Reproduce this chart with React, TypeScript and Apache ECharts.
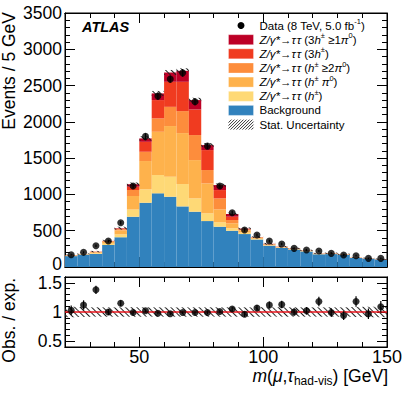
import React, { useEffect, useRef } from 'react';
import * as echarts from 'echarts';

const massBins = ['22.5','27.5','32.5','37.5','42.5','47.5','52.5','57.5','62.5','67.5','72.5','77.5','82.5','87.5','92.5','97.5','102.5','107.5','112.5','117.5','122.5','127.5','132.5','137.5','142.5','147.5'];
const background = [150,170,180,303,410,693,885,1015,968,835,762,633,555,500,454,380,293,262,240,214,175,178,166,124,116,103];
const zH = [5,3,10,18,40,101,185,252,276,308,184,106,60,33,20,8,6,5,4,4,3,3,2,2,2,1];
const zHPi0 = [5,4,12,25,55,184,390,596,698,702,527,413,179,69,30,12,10,6,6,5,4,4,4,3,2,2];
const zH2Pi0 = [3,2,6,8,15,82,128,185,265,303,345,184,152,45,12,5,5,4,3,3,2,2,2,1,1,1];
const z3H = [1,1,3,4,10,46,137,252,345,404,353,275,114,46,10,4,4,3,3,2,1,2,1,1,1,1];
const z3HPi0 = [1,0,1,2,5,33,47,92,128,151,129,69,69,37,4,2,2,1,1,1,1,1,1,1,1,1];
const observed = [170,202,293,358,610,1115,1800,2355,2589,2675,2276,1666,1115,748,509,440,358,317,257,234,220,188,165,156,119,119];
const observedErr = [13,14,17,19,25,33,42,49,51,52,48,41,33,27,23,21,19,18,16,15,15,14,13,12,11,11];
const statErr = [8,8,10,14,20,25,30,34,35,35,32,27,22,18,15,13,12,11,10,10,9,9,9,8,8,8];
const ratio = [1.03,1.12,1.38,1.0,1.15,0.99,1.02,0.98,0.97,0.99,0.99,0.99,1.01,1.05,0.96,1.07,1.12,1.13,1.0,1.02,1.18,0.99,0.94,1.18,0.97,1.09];
const ratioErr = [0.08,0.08,0.07,0.05,0.05,0.03,0.025,0.02,0.02,0.02,0.02,0.025,0.03,0.04,0.045,0.05,0.06,0.065,0.065,0.065,0.08,0.075,0.075,0.09,0.09,0.1];
const ratioBand = [0.09,0.085,0.08,0.08,0.08,0.08,0.08,0.08,0.08,0.08,0.08,0.08,0.08,0.08,0.08,0.08,0.08,0.08,0.08,0.08,0.08,0.08,0.08,0.085,0.09,0.09];
const xMajorTicks = [50, 100, 150];
const ratioMajorTicks = [0.5, 1, 1.5];
const mainZeroLabel = '0';

const COLORS = {
  bkg: '#3182bd',
  h: '#fed976',
  hpi0: '#feb24c',
  h2pi0: '#fd8d3c',
  three: '#f03b20',
  threepi0: '#bd0026',
};

const FF = '"Liberation Sans", Arial, Helvetica, sans-serif';
const LABEL_FS = 17.5;

const decal = {
  symbol: 'rect',
  color: '#222',
  dashArrayX: [1, 0],
  dashArrayY: [1, 3],
  rotation: Math.PI / 4,
};

function buildOption() {
  const total = background.map((b, i) => b + zH[i] + zHPi0[i] + zH2Pi0[i] + z3H[i] + z3HPi0[i]);
  const G0 = { left: 65, top: 13, width: 322, height: 254 };
  const G1 = { left: 65, top: 277, width: 322, height: 70 };

  const valX = (grid: number, pos: string, major: boolean, labels: boolean) => ({
    type: 'value', gridIndex: grid, position: pos, min: 20, max: 150,
    ...(major ? {} : { interval: 10 }),
    axisLine: { show: true, lineStyle: { color: '#000', width: 1 } },
    axisTick: major
      ? { show: true, inside: true, length: 10, customValues: xMajorTicks, lineStyle: { color: '#000' } }
      : { show: true, inside: true, length: 5, lineStyle: { color: '#000' } },
    axisLabel: labels
      ? { show: true, customValues: xMajorTicks, fontSize: 18, color: '#000', fontFamily: FF, margin: 1 }
      : { show: false },
    splitLine: { show: false },
  });

  const catX = (grid: number) => ({
    type: 'category', gridIndex: grid, data: massBins, show: false, boundaryGap: true,
  });

  const ratioY = (pos: string, major: boolean, labels: boolean) => ({
    type: 'value', gridIndex: 1, position: pos, min: 0.4, max: 1.6,
    ...(major ? {} : { interval: 0.1 }),
    axisLine: { show: true, lineStyle: { color: '#000' } },
    axisTick: major
      ? { show: true, inside: true, length: 10, customValues: ratioMajorTicks, lineStyle: { color: '#000' } }
      : { show: true, inside: true, length: 5, lineStyle: { color: '#000' } },
    axisLabel: labels
      ? { show: true, customValues: ratioMajorTicks, fontSize: LABEL_FS, lineHeight: 13, color: '#000', fontFamily: FF, margin: 3,
          formatter: (v: number) => String(v) }
      : { show: false },
    splitLine: { show: false },
  });

  const mainY = (pos: string, labels: boolean) => ({
    type: 'value', gridIndex: 0, position: pos, min: 0, max: 3500, interval: 500,
    axisLine: { show: true, lineStyle: { color: '#000' } },
    axisTick: { show: true, inside: true, length: 10, lineStyle: { color: '#000' } },
    minorTick: { show: true, splitNumber: 5, length: 5, lineStyle: { color: '#000' } },
    axisLabel: labels ? { show: true, showMinLabel: false, fontSize: LABEL_FS, lineHeight: 13, color: '#000', fontFamily: FF, margin: 3,
      formatter: (v: number) => (v === 0 ? '' : String(v)) } : { show: false },
    splitLine: { show: false },
    minorSplitLine: { show: false },
  });

  const stackDefs = [
    { name: 'Background', data: background, color: COLORS.bkg },
    { name: 'h', data: zH, color: COLORS.h },
    { name: 'hpi0', data: zHPi0, color: COLORS.hpi0 },
    { name: 'h2pi0', data: zH2Pi0, color: COLORS.h2pi0 },
    { name: '3h', data: z3H, color: COLORS.three },
    { name: '3hpi0', data: z3HPi0, color: COLORS.threepi0 },
  ];

  const barCommon = { type: 'bar', barCategoryGap: '0%', barGap: '-100%', silent: true };

  const errBar = (xIdx: number, yIdx: number, vals: number[], errs: number[]) => ({
    type: 'custom', xAxisIndex: xIdx, yAxisIndex: yIdx, silent: true, z: 5,
    renderItem: (params: any, api: any) => {
      const x = api.value(0);
      const p1 = api.coord([x, api.value(1)]);
      const p2 = api.coord([x, api.value(2)]);
      return { type: 'line', shape: { x1: p1[0], y1: p1[1], x2: p2[0], y2: p2[1] }, style: { stroke: '#000', lineWidth: 1.2 } };
    },
    encode: { x: 0, y: [1, 2] },
    data: vals.map((v, i) => [i, v - errs[i], v + errs[i]]),
  });

  const series: any[] = [];
  stackDefs.forEach((s) => {
    series.push({ ...barCommon, name: s.name, xAxisIndex: 0, yAxisIndex: 0, stack: 'mc', data: s.data, itemStyle: { color: s.color } });
  });
  series.push({ ...barCommon, name: 'uncBase', xAxisIndex: 0, yAxisIndex: 0, stack: 'unc', data: total.map((t, i) => t - statErr[i]), itemStyle: { color: 'rgba(0,0,0,0)' } });
  series.push({ ...barCommon, name: 'unc', xAxisIndex: 0, yAxisIndex: 0, stack: 'unc', data: statErr.map((e) => 2 * e), itemStyle: { color: 'rgba(0,0,0,0)', decal } });
  series.push(errBar(0, 0, observed, observedErr));
  series.push({ type: 'scatter', xAxisIndex: 0, yAxisIndex: 0, symbol: 'circle', symbolSize: 7, silent: true, z: 6,
    itemStyle: { color: '#000' }, data: observed.map((v, i) => [i, v]) });

  // ratio panel
  series.push({ ...barCommon, name: 'rBase', xAxisIndex: 5, yAxisIndex: 2, stack: 'rb', data: ratioBand.map((e) => 1 - e), itemStyle: { color: 'rgba(0,0,0,0)' } });
  series.push({ ...barCommon, name: 'rBand', xAxisIndex: 5, yAxisIndex: 2, stack: 'rb', data: ratioBand.map((e) => 2 * e), itemStyle: { color: 'rgba(0,0,0,0)', decal } });
  series.push(errBar(5, 2, ratio, ratioErr));
  series.push({ type: 'scatter', xAxisIndex: 5, yAxisIndex: 2, symbol: 'circle', symbolSize: 7, silent: true, z: 6,
    itemStyle: { color: '#000' }, data: ratio.map((v, i) => [i, v]),
    markLine: { silent: true, symbol: ['none', 'none'], label: { show: false }, z: 4,
      lineStyle: { color: '#e8141c', width: 1.6, type: 'solid' }, data: [{ yAxis: 1 }] } });

  // legend graphics
  const rows = [25.5, 39.7, 53.8, 68, 82.1, 96.3, 110.4, 124.6];
  const swX = 228.5, swW = 25, swH = 10;
  const tt = 'τ\u200Aτ';
  const legendTexts = [
    'Data (8 TeV, 5.0 fb{s|-1})',
    `{i|Z/γ*}→{i|${tt}} (3{i|h}{s|±} ≥1{i|π}{s|0})`,
    `{i|Z/γ*}→{i|${tt}} (3{i|h}{s|±})`,
    `{i|Z/γ*}→{i|${tt}} ({i|h}{s|±} ≥2{i|π}{s|0})`,
    `{i|Z/γ*}→{i|${tt}} ({i|h}{s|±} {i|π}{s|0})`,
    `{i|Z/γ*}→{i|${tt}} ({i|h}{s|±})`,
    'Background',
    'Stat. Uncertainty',
  ];
  const swColors = [null, COLORS.threepi0, COLORS.three, COLORS.h2pi0, COLORS.hpi0, COLORS.h, COLORS.bkg, null];
  const graphics: any[] = [];
  legendTexts.forEach((t, i) => {
    graphics.push({
      type: 'text', x: 259.5, y: rows[i], silent: true,
      style: {
        text: t, fill: '#000', fontSize: 11.5, fontFamily: FF, lineHeight: 16, align: 'left', verticalAlign: 'middle',
        rich: {
          i: { fontStyle: 'italic', fontSize: 11.5, fontFamily: FF, lineHeight: 16 },
          s: { fontSize: 7.5, fontFamily: FF, lineHeight: 9, verticalAlign: 'top' },
        },
      },
    });
    const c = swColors[i];
    if (c) {
      graphics.push({ type: 'rect', silent: true, shape: { x: swX, y: rows[i] - swH / 2, width: swW, height: swH }, style: { fill: c, stroke: 'rgba(255,255,255,0.6)', lineWidth: 0.5 } });
    }
  });
  graphics.push({ type: 'circle', silent: true, shape: { cx: swX + swW / 2, cy: rows[0], r: 3.5 }, style: { fill: '#000' } });
  // hatch swatch
  const hy0 = rows[7] - swH / 2;
  for (let k = -swH; k < swW; k += 3) {
    let xa = k, ya = swH, xb = k + swH, yb = 0;
    if (xa < 0) { ya = swH + xa; xa = 0; }
    if (xb > swW) { yb = xb - swW; xb = swW; }
    if (xb <= xa) continue;
    graphics.push({ type: 'line', silent: true, shape: { x1: swX + xa, y1: hy0 + ya, x2: swX + xb, y2: hy0 + yb }, style: { stroke: '#222', lineWidth: 0.9 } });
  }
  // main y "0" label (placed separately so it does not collide with the ratio "1.5")
  graphics.push({ type: 'text', x: 62, y: 264, silent: true,
    style: { text: mainZeroLabel, fill: '#000', fontSize: LABEL_FS, fontFamily: FF, align: 'right', verticalAlign: 'middle' } });
  // ATLAS label
  graphics.push({ type: 'text', x: 82, y: 27, silent: true,
    style: { text: 'ATLAS', fill: '#000', fontSize: 14.5, fontWeight: 'bold', fontStyle: 'italic', fontFamily: FF, align: 'left', verticalAlign: 'middle' } });
  // Y titles
  graphics.push({ type: 'text', x: 9, y: 12, rotation: Math.PI / 2, silent: true,
    style: { text: 'Events / 5 GeV', fill: '#000', fontSize: 17.5, fontFamily: FF, align: 'right', verticalAlign: 'middle' } });
  graphics.push({ type: 'text', x: 9, y: 278, rotation: Math.PI / 2, silent: true,
    style: { text: 'Obs. / exp.', fill: '#000', fontSize: 17.5, fontFamily: FF, align: 'right', verticalAlign: 'middle' } });
  // X title
  graphics.push({ type: 'text', x: 388, y: 376, silent: true,
    style: {
      text: '{i|m}({i|μ},{i|τ}{b|had-vis}) [GeV]', fill: '#000', fontSize: 17.5, fontFamily: FF, lineHeight: 22,
      align: 'right', verticalAlign: 'middle',
      rich: {
        i: { fontStyle: 'italic', fontSize: 17.5, fontFamily: FF, lineHeight: 22 },
        b: { fontSize: 12, fontFamily: FF, lineHeight: 12, verticalAlign: 'bottom' },
      },
    } });

  return {
    animation: false,
    backgroundColor: '#fff',
    grid: [
      { ...G0, show: true, borderColor: '#000', borderWidth: 1, backgroundColor: 'transparent' },
      { ...G1, show: true, borderColor: '#000', borderWidth: 1, backgroundColor: 'transparent' },
    ],
    xAxis: [
      catX(0),
      valX(0, 'bottom', false, false),
      valX(0, 'bottom', true, false),
      valX(0, 'top', false, false),
      valX(0, 'top', true, false),
      catX(1),
      valX(1, 'bottom', false, false),
      valX(1, 'bottom', true, true),
      valX(1, 'top', false, false),
      valX(1, 'top', true, false),
    ],
    yAxis: [
      mainY('left', true),
      mainY('right', false),
      ratioY('left', true, true),
      ratioY('left', false, false),
      ratioY('right', true, false),
      ratioY('right', false, false),
    ],
    series,
    graphic: graphics,
  };
}

export default function App() {
  const ref = useRef<HTMLDivElement>(null);
  useEffect(() => {
    if (!ref.current) return;
    const chart = echarts.init(ref.current, null, { renderer: 'svg' });
    chart.setOption(buildOption() as any);
    return () => chart.dispose();
  }, []);
  return <div ref={ref} style={{ position: 'fixed', left: 0, top: 0, width: 407, height: 393, background: '#fff' }} />;
}
